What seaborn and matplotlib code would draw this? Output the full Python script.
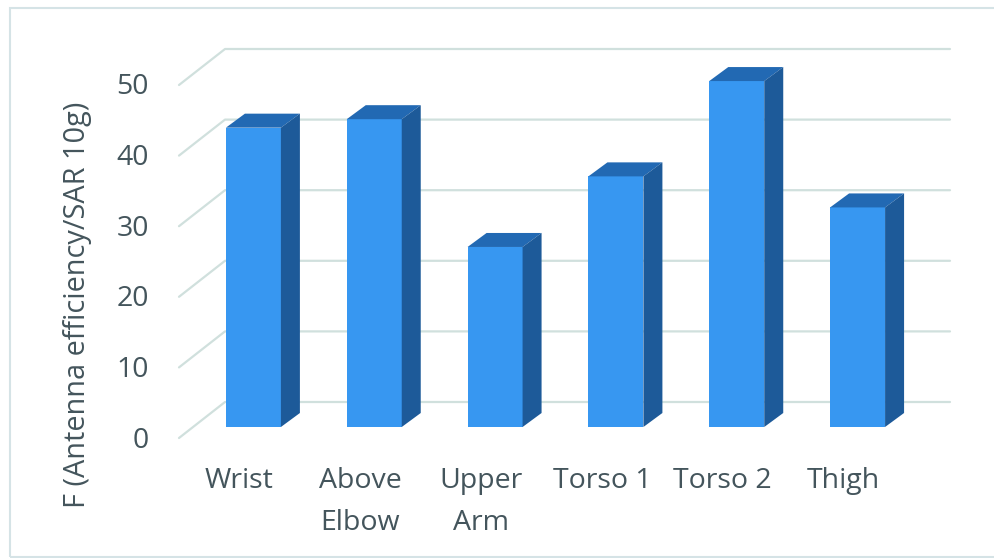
import matplotlib
matplotlib.use("Agg")
import matplotlib.pyplot as plt
from matplotlib.patches import Polygon, Rectangle
from matplotlib.transforms import ScaledTranslation
import pandas as pd
import seaborn as sns

categories = ["Wrist", "Above\nElbow", "Upper\nArm", "Torso 1", "Torso 2", "Thigh"]
values = [42.4, 43.6, 25.5, 35.5, 49.0, 31.1]
y_ticks = [0, 10, 20, 30, 40, 50]
y_label = "F (Antenna efficiency/SAR 10g)"

WIDTH, HEIGHT = 995, 558
TEXT = "#44555c"
GRID = "#d0e0dd"
FRONT = "#3797f1"
TOP = "#2269b3"
SIDE = "#1d5a99"

sns.set_theme(style="white")
plt.rcParams["font.family"] = ["Open Sans", "DejaVu Sans"]

fig = plt.figure(figsize=(WIDTH / 100, HEIGHT / 100), dpi=100, facecolor="white")
fig.add_artist(Rectangle((10 / WIDTH, 1 / HEIGHT), 1.0, 1 - 9 / HEIGHT,
                         transform=fig.transFigure, fill=False,
                         edgecolor="#d5e3e6", linewidth=1.5))

# Plot box of the bar fronts, in pixels from the left and from the top
left, right, top, bottom = 193, 918, 74, 427
ax = fig.add_axes([left / WIDTH, 1 - bottom / HEIGHT,
                   (right - left) / WIDTH, (bottom - top) / HEIGHT])

frame = pd.DataFrame({"site": categories, "value": values})
sns.barplot(data=frame, x="site", y="value", color=FRONT, saturation=1,
            width=0.455, linewidth=0, ax=ax, zorder=3)
ax.set_xlim(-0.5, 5.5)
ax.set_ylim(0, 50)
sns.despine(ax=ax, left=True, bottom=True)

x_px = (right - left) / 6
y_px = (bottom - top) / 50


def dx(px):
    return px / x_px


def dy(px):
    return px / y_px


# Floor and back wall grid: a slanted stretch on the left, then the wall
for tick in y_ticks:
    ax.plot([-0.5 + dx(-14), -0.5 + dx(32), 5.5 + dx(32)],
            [tick - dy(11), tick + dy(25), tick + dy(25)],
            color=GRID, lw=1.6, clip_on=False, zorder=1)

# Extruded top and side of each bar
depth_x, depth_y = dx(19), dy(14)
for bar in ax.patches:
    x0, x1 = bar.get_x(), bar.get_x() + bar.get_width()
    h = bar.get_height()
    ax.add_patch(Polygon([(x0, h), (x0 + depth_x, h + depth_y),
                          (x1 + depth_x, h + depth_y), (x1, h)],
                         closed=True, facecolor=TOP, edgecolor="none",
                         clip_on=False, zorder=3))
    ax.add_patch(Polygon([(x1, 0), (x1, h), (x1 + depth_x, h + depth_y),
                          (x1 + depth_x, depth_y)],
                         closed=True, facecolor=SIDE, edgecolor="none",
                         clip_on=False, zorder=3))

ax.set_yticks(y_ticks)
ax.set_xlabel("")
ax.set_ylabel("")
ax.tick_params(axis="both", length=0, labelcolor=TEXT, labelsize=20.5)

# Tick labels follow the front edge of the floor, not the bar plane
shift_y = ScaledTranslation(-39 / 100, -10 / 100, fig.dpi_scale_trans)
for label in ax.get_yticklabels():
    label.set_transform(label.get_transform() + shift_y)
shift_x = ScaledTranslation(-14 / 100, -35 / 100, fig.dpi_scale_trans)
for label in ax.get_xticklabels():
    label.set_transform(label.get_transform() + shift_x)
    label.set_linespacing(1.65)

fig.text(78 / WIDTH, 1 - 305 / HEIGHT, y_label, rotation=90, color=TEXT,
         fontsize=20.8, ha="center", va="center")

fig.savefig("out.png", dpi=100)
